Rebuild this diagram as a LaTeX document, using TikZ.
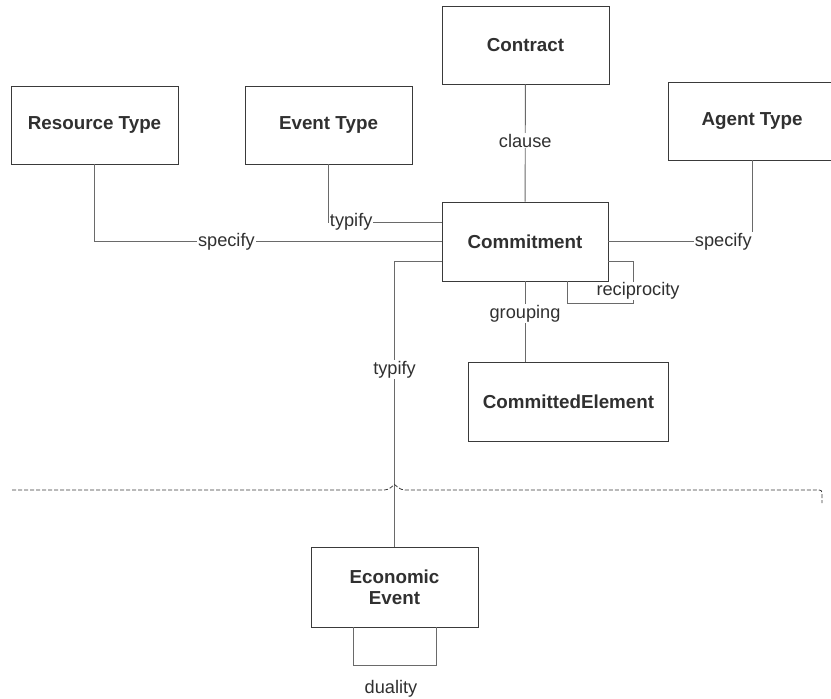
\documentclass[tikz,border=0pt]{standalone}
\usepackage{fontspec}
\setmainfont{Liberation Sans}
\definecolor{boxline}{HTML}{3A3A3A}
\definecolor{relline}{HTML}{6A6A6A}
\definecolor{txt}{HTML}{303030}

\begin{document}
\begin{tikzpicture}[x=1pt,y=-1pt,
    entity/.style={draw=boxline,line width=.9pt,minimum width=167pt,minimum height=78pt,
      font=\bfseries\fontsize{18.8}{21}\selectfont,text=txt,align=center},
    rel/.style={draw=relline,line width=.9pt},
    lbl/.style={fill=white,inner sep=1pt,font=\fontsize{18.2}{21}\selectfont,text=txt}]
      \useasboundingbox (0,0) rectangle (831,699);

      \node [entity] (contract) at (525.5,45) {Contract};
      \node [entity] (resourcetype) at (94.5,125) {Resource Type};
      \node [entity] (eventtype) at (328.5,125) {Event Type};
      \node [entity,minimum width=168pt] (agenttype) at (752,121) {Agent Type};
      \node [entity,minimum width=166pt,minimum height=79pt] (commitment) at (525,241.5) {Commitment};
      \node [entity,minimum width=200pt,minimum height=79pt] (committedelement) at (568.5,401.5) {CommittedElement};
      \node [entity,minimum height=80pt] (economicevent) at (394.5,587) {Economic\\Event};

      \draw [rel] (contract) -- node [lbl,pos=.48] {clause} (commitment);
      \draw [rel] (resourcetype.south) |- node [lbl,pos=.69] {specify} (commitment.west);
      \draw [rel] (eventtype.south) |- node [lbl,pos=.5,anchor=west] {typify} ([yshift=19.5pt]commitment.west);
      \draw [rel] (commitment.east) -| node [lbl,pos=.4] {specify} (agenttype.south);
      \draw [rel] ([yshift=-19.5pt]commitment.west) -| node [lbl,pos=.69] {typify} (economicevent.north);
      \draw [rel] (commitment.south) -- node [lbl,pos=.4] {grouping} (commitment.south |- committedelement.north);

      \coordinate (reciprocitycorner) at (633,303);
      \draw [rel] ([yshift=-19.5pt]commitment.east) -| (reciprocitycorner) -| ([xshift=42pt]commitment.south);
      \node [lbl] (reciprocity) at (638,291) {reciprocity};

      \draw [rel] ([xshift=-41.5pt]economicevent.south) -- ++(0,38) -| ([xshift=41.5pt]economicevent.south);
      \node [lbl] (duality) at (391,689) {duality};

      \draw [boxline,line width=.8pt,dash pattern=on 4pt off 2pt]
        (12,490) -- (380,490) .. controls (388,490) .. (394.5,484.5)
        .. controls (401,490) .. (410,490) -- (816,490)
        .. controls (822,490) .. (822,496) -- (822,503);

    \end{tikzpicture}
\end{document}
